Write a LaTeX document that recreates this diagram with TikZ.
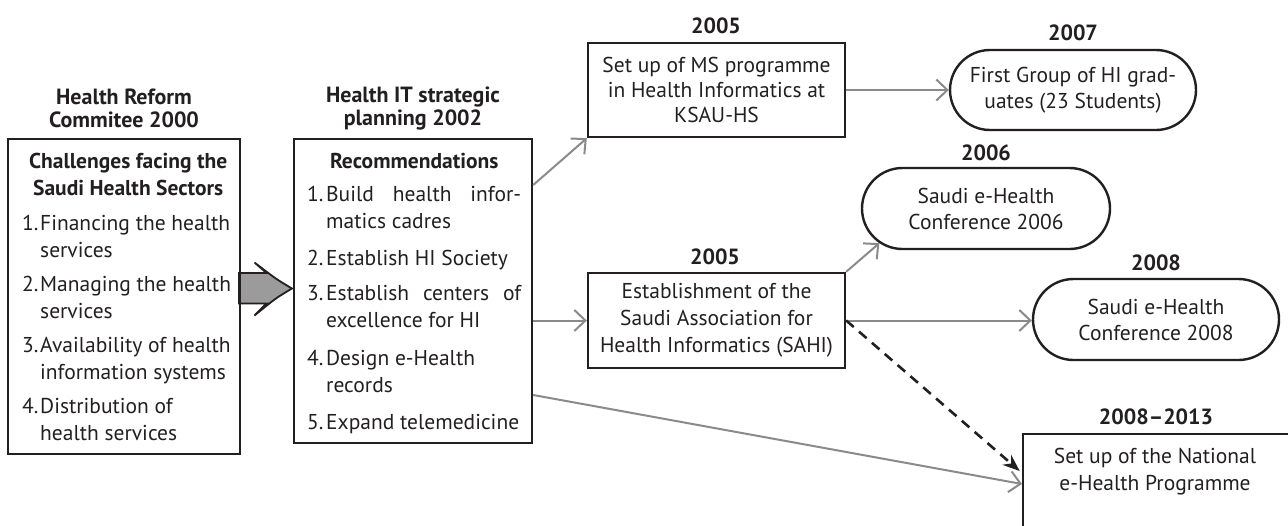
\documentclass[tikz,border=0pt]{standalone}
\usepackage{fontspec}
\setmainfont{PT Sans}
\usetikzlibrary{arrows.meta,shapes.misc}
\definecolor{ink}{HTML}{231F20}
\definecolor{agray}{HTML}{8A8A8A}
\definecolor{bfill}{HTML}{9B9B9B}
\newcommand\bodyfont{\fontsize{21.5}{27}\selectfont}
\newcommand\yrfont{\fontsize{22}{23}\selectfont\bfseries}
\newlength\itmind
\newcommand\itm[2]{\par\noindent\hangindent=\itmind\hangafter=1\makebox[\itmind][l]{#1}#2\par}
\begin{document}
\begin{tikzpicture}[x=1pt,y=-1pt,
  box/.style={draw=ink, line width=2.4pt, rectangle, inner sep=0pt, text=ink, font=\bodyfont, align=center},
  pill/.style={draw=ink, line width=2.4pt, rounded rectangle, inner sep=0pt, text=ink, font=\bodyfont, align=center},
  yr/.style={text=ink, font=\yrfont, inner sep=0pt, align=center},
  garrow/.style={draw=agray, line width=2pt, -{Straight Barb[length=11pt,width=21pt,line width=2pt]}},
  dasharrow/.style={draw=ink, line width=2.6pt, dash pattern=on 10pt off 7pt, -{Stealth[length=17pt,width=13pt]}},
  bigarrow/.style={draw=ink, line width=1.8pt, fill=bfill, line join=miter},
  listtext/.style={text=ink, font=\bodyfont, inner sep=0pt, text width=#1, align=justify, anchor=north west},
]
\useasboundingbox (0,0) rectangle (1288,525);
\clip (0,0) rectangle (1288,525);

% block arrow between the two first boxes
\draw[bigarrow] (239,273) -- (266.5,273) -- (254.5,262.5) .. controls (276,279) .. (292,288.5)
  .. controls (276,298) .. (254.5,315.5) -- (266.5,303.5) -- (239,303.5) -- cycle;

% titles
\node[yr] (tL) at (124,108.5) {Health Reform\\Commitee 2000};
\node[yr] (tM) at (413,108.5) {Health IT strategic\\planning 2002};

% left box
\node[box, minimum width=232pt, minimum height=315pt] (boxL) at (124,296.5) {};
\node[listtext=212pt] (txtL) at (22,153) {%
  {\centering\bfseries Challenges facing the\\Saudi Health Sectors\par}
  \setlength\itmind{18pt}%
  \vspace{8pt}
  \itm{1.}{Financing the health\newline services}
  \vspace{7pt}
  \itm{2.}{Managing the health\newline services}
  \vspace{7pt}
  \itm{3.}{Availability of health\newline information systems}
  \vspace{7pt}
  \itm{4.}{Distribution of\newline health services}};

% middle box
\node[box, minimum width=238pt, minimum height=304pt] (boxM) at (413,291) {};
\node[listtext=214pt] (txtM) at (307,153) {%
  {\centering\bfseries Recommendations\par}
  \setlength\itmind{19pt}%
  \vspace{6pt}
  \itm{1.}{Build health infor-\linebreak matics cadres}
  \vspace{10.5pt}
  \itm{2.}{Establish HI Society}
  \vspace{8pt}
  \itm{3.}{Establish centers of\linebreak excellence for HI}
  \vspace{10.5pt}
  \itm{4.}{Design e-Health\newline records}
  \vspace{10.5pt}
  \itm{5.}{Expand telemedicine}};

% year labels
\node[yr] (y05a) at (716,26) {2005};
\node[yr] (y07) at (1073,33) {2007};
\node[yr] (y06) at (986,153) {2006};
\node[yr] (y05b) at (715,257) {2005};
\node[yr] (y08) at (1156,263) {2008};
\node[yr] (y0813) at (1156,417) {2008--2013};

% event boxes
\node[box, minimum width=257pt, minimum height=94pt, font=\fontsize{21.5}{25}\selectfont] (boxMS) at (716.5,90)
  {Set up of MS programme\\in Health Informatics at\\KSAU-HS};
\node[pill, minimum width=246pt, minimum height=80pt, font=\fontsize{21.5}{26}\selectfont] (boxFG) at (1073,90)
  {First Group of HI grad-\\uates (23 Students)};
\node[pill, minimum width=248pt, minimum height=81pt, font=\fontsize{21.5}{26}\selectfont] (boxC6) at (986,208.5)
  {Saudi e-Health\\Conference 2006};
\node[box, minimum width=257pt, minimum height=95pt] (boxSAHI) at (716.5,320.5)
  {Establishment of the\\Saudi Association for\\Health Informatics (SAHI)};
\node[pill, minimum width=246pt, minimum height=81pt, font=\fontsize{21.5}{26}\selectfont] (box08) at (1156,319.5)
  {Saudi e-Health\\Conference 2008};
\node[box, minimum width=275pt, minimum height=115pt, anchor=north west] (boxN) at (1022,433) {};
\node[text=ink, font=\bodyfont, align=center, inner sep=0pt] (txtN) at (1155,471.5)
  {Set up of the National\\e-Health Programme};

% helper coordinates for connector heights
\coordinate (m1) at (0,185);
\coordinate (m3) at (0,395);
\coordinate (dN) at (0,473);
\coordinate (gN) at (0,484);

% connectors
\draw[garrow] (boxM.east |- m1) -- (boxMS.south west);
\draw[garrow] (boxMS.east) -- (boxFG.west);
\draw[garrow] (boxM.east |- boxSAHI.west) -- (boxSAHI.west);
\draw[garrow] (boxSAHI.north east) -- (boxC6.198);
\draw[garrow] (boxSAHI.east) -- (boxSAHI.east -| box08.west);
\draw[garrow] (boxM.east |- m3) -- (boxN.west |- gN);
\draw[dasharrow, shorten >=3pt] (boxSAHI.east) -- (boxN.west |- dN);
\end{tikzpicture}
\end{document}
